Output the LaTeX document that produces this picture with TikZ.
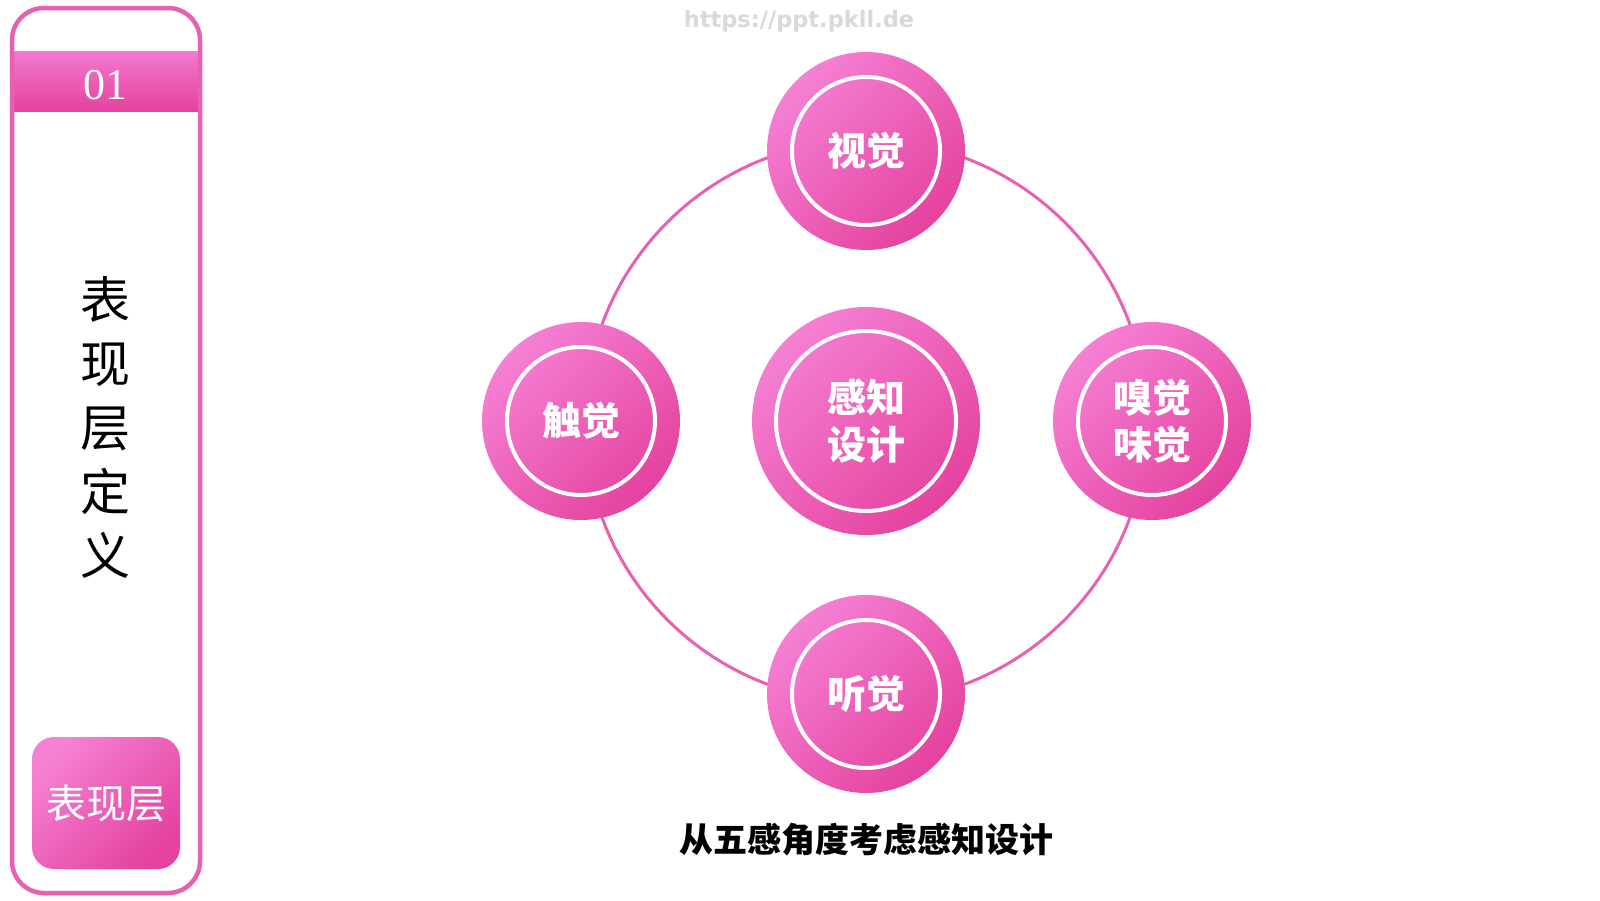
\documentclass[tikz,border=0pt]{standalone}
\usepackage{fontspec}
\setmainfont{Liberation Serif}
\newfontfamily\cjk{Noto Sans CJK SC}
\newfontfamily\urlfont{DejaVu Sans}
\definecolor{pinkL}{RGB}{245,128,212}
\definecolor{pinkD}{RGB}{228,66,158}
\definecolor{pinkLine}{RGB}{232,96,176}

\begin{document}
\begin{tikzpicture}[x=1pt, y=1pt]
        \tikzset{
            panel/.style={draw=pinkLine, line width=4.5pt, rounded corners=32pt},
            orbit/.style={draw=pinkLine, line width=3pt},
            sense/.style={circle, minimum size=198pt, inner sep=0pt, top color=pinkL, bottom color=pinkD, shading angle=45, text=white, font=\cjk\bfseries\fontsize{39}{47}\selectfont, align=center},
            whitering/.style={draw=white, line width=4pt},
            vtext/.style={font=\cjk\fontsize{50}{64}\selectfont, align=center}
        }
        \useasboundingbox[fill=white] (0,0) rectangle (1600,-900);

        % left panel
        \begin{scope}
            \fill[white, rounded corners=32pt] (12,-8) rectangle (200,-893);
            \shade[top color=pinkL!90!pinkD, bottom color=pinkD] (14,-51) rectangle (198,-111);
            \draw[panel] (12,-8) rectangle (200,-893);
            \node[text=white, font=\fontsize{44}{44}\selectfont] (num) at (105,-85) {01};
            \node[vtext] (title) at (105,-427) {表\\现\\层\\定\\义};
            \node[minimum width=148pt, minimum height=132pt, rounded corners=22pt, top color=pinkL, bottom color=pinkD, shading angle=45, text=white, font=\cjk\fontsize{40}{40}\selectfont] (tag) at (106,-803) {表现层};
        \end{scope}

        % watermark
        \node[text=gray!30, font=\urlfont\bfseries\fontsize{22.5}{22.5}\selectfont] (mark) at (799,-21) {https://ppt.pkll.de};

        % five senses
        \coordinate (hub) at (866,-421);
        \draw[orbit] (hub) circle (281);
        \node[sense, minimum size=228pt] (core) at (hub) {感知\\设计};
        \node[sense] (see) at (866,-151) {视觉};
        \node[sense] (touch) at (581,-421) {触觉};
        \node[sense] (smell) at (1152,-421) {嗅觉\\味觉};
        \node[sense] (hear) at (866,-694) {听觉};
        \draw[whitering] (core) circle (90);
        \foreach \n in {see, touch, smell, hear}
            \draw[whitering] (\n) circle (74);

        \node[font=\cjk\bfseries\fontsize{34}{34}\selectfont] (caption) at (866,-840) {从五感角度考虑感知设计};
    \end{tikzpicture}
\end{document}
